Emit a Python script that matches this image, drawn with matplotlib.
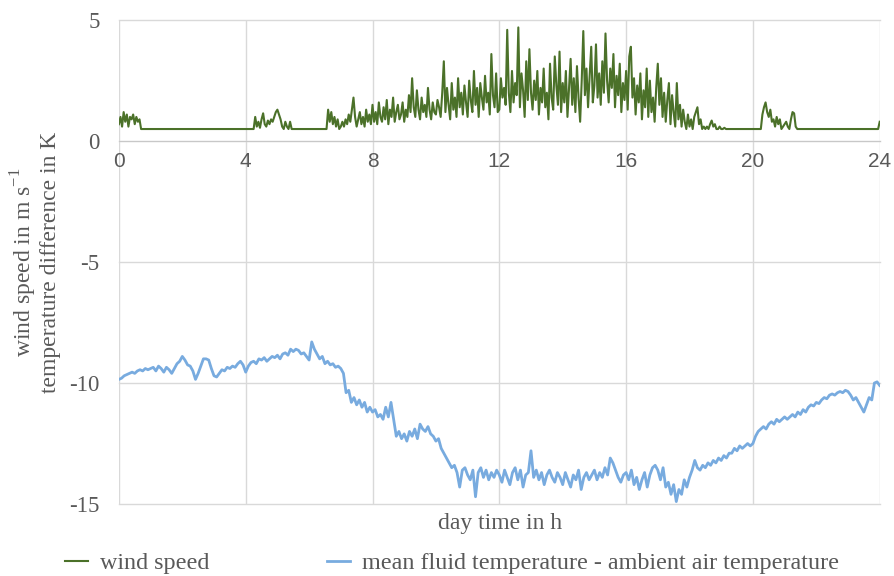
import numpy as np
import matplotlib
matplotlib.use("Agg")
import matplotlib.pyplot as plt

plt.rcParams['font.family'] = ['Liberation Serif', 'DejaVu Serif']
plt.rcParams['mathtext.fontset'] = 'custom'
plt.rcParams['mathtext.rm'] = 'Liberation Serif'
plt.rcParams['axes.unicode_minus'] = False

# wind speed in m/s, one value every 3 minutes (0 h .. 24 h)
wind_speed = (
    [0.7, 1.0, 0.6, 1.2, 0.8, 1.1, 0.6, 1.0, 0.9, 1.1, 0.7, 1.0, 0.8, 0.9]
    + [0.5] * 72
    + [1.0, 0.6, 0.8, 0.55, 0.9, 1.15, 0.7, 0.6, 0.85, 0.7, 0.9, 0.8,
       1.0, 1.2, 1.3, 1.1, 0.9, 0.6, 0.5, 0.8, 0.6, 0.5, 0.8, 0.5]
    + [0.5] * 22
    + [1.3, 0.8, 1.2, 0.7, 1.0, 0.6, 0.9, 0.5, 0.6, 0.8, 0.6, 0.9, 0.7, 1.1,
       0.8, 1.3, 1.8, 1.0, 0.6, 0.9, 1.2, 0.7, 1.0, 0.6, 1.3, 0.8, 1.1, 0.7]
    + [1.5, 0.8, 1.2, 0.7, 1.6, 1.0, 0.8, 1.4, 0.9, 1.7, 0.7, 1.3, 1.0, 1.8, 0.8, 1.2, 1.5, 0.9, 1.1, 1.6]
    + [0.8, 1.3, 1.0, 1.9, 1.2, 2.6, 1.4, 1.0, 2.1, 1.3, 0.9, 1.8, 1.2, 1.5, 1.0, 2.2, 1.3, 0.9, 1.6, 1.2]
    + [1.1, 1.7, 1.4, 1.0, 2.0, 3.3, 1.2, 2.2, 1.5, 0.9, 2.4, 1.3, 1.8, 1.0, 2.6, 1.4, 2.0, 1.1, 2.3, 1.6]
    + [1.0, 2.5, 1.7, 1.2, 2.9, 1.5, 2.2, 1.0, 2.4, 1.8, 1.3, 2.7, 1.6, 2.0, 1.1, 3.6, 1.9, 1.4, 2.8, 1.2]
    + [1.3, 2.6, 1.8, 2.2, 1.5, 4.6, 2.0, 1.2, 2.9, 1.6, 2.4, 1.9, 4.7, 1.4, 2.8, 2.1, 1.0, 3.3, 1.7, 3.8]
    + [2.0, 1.3, 2.5, 1.7, 2.9, 1.1, 2.2, 1.6, 3.0, 1.4, 2.0, 0.9, 3.2, 1.8, 1.3, 3.5, 2.3, 1.5, 3.7, 1.2]
    + [2.4, 1.6, 2.9, 1.0, 2.2, 3.4, 1.5, 2.6, 1.2, 3.1, 1.8, 0.8, 2.5, 4.55, 1.9, 3.0, 1.4, 2.7, 3.9, 1.6]
    + [2.3, 4.0, 1.8, 2.8, 1.5, 3.3, 2.0, 4.45, 2.5, 1.6, 3.0, 2.2, 3.6, 1.4, 2.7, 1.9, 3.2, 1.2, 2.4, 1.7]
    + [2.9, 1.3, 3.5, 3.9, 1.8, 2.6, 1.1, 2.3, 1.6, 2.8, 0.9, 2.1, 1.4, 3.0, 1.0, 2.5, 1.2, 1.8, 0.8, 2.2]
    + [3.2, 1.5, 2.6, 1.0, 2.0, 0.8, 1.7, 2.4, 0.7, 1.9, 1.2, 0.6, 2.4, 0.9, 1.5, 0.6, 1.3, 0.8, 0.5, 1.1]
    + [0.6, 0.9, 0.5, 1.0, 1.2, 1.4, 0.7, 0.9, 0.5, 0.6]
    + [0.5, 0.6, 0.5, 0.7, 0.85, 0.6, 0.7, 0.5, 0.5, 0.6, 0.5, 0.5, 0.55, 0.5, 0.5, 0.5]
    + [0.5] * 20
    + [1.1, 1.4, 1.6, 1.2, 1.0, 1.3, 0.8, 0.9, 0.6, 1.0, 0.7, 0.9, 0.5, 0.6,
       0.7, 0.8, 0.6, 0.5, 0.9, 1.2, 1.15, 0.6]
    + [0.5] * 52
    + [0.8]
)

# mean fluid temperature - ambient air temperature in K, every 5 minutes
temp_diff = [
    -9.85, -9.8, -9.7, -9.65, -9.6, -9.55, -9.6, -9.5, -9.45, -9.5, -9.4, -9.45,
    -9.4, -9.35, -9.5, -9.3, -9.4, -9.55, -9.35, -9.45, -9.6, -9.4, -9.2, -9.1,
    -8.9, -9.05, -9.25, -9.3, -9.5, -9.85, -9.6, -9.3, -9.0, -9.0, -9.05, -9.4,
    -9.7, -9.75, -9.6, -9.45, -9.5, -9.35, -9.4, -9.3, -9.35, -9.2, -9.1, -9.25,
    -9.55, -9.3, -9.15, -9.1, -9.2, -9.0, -9.05, -8.95, -9.1, -9.0, -8.9, -8.95,
    -8.85, -9.0, -8.8, -8.75, -8.85, -8.6, -8.7, -8.6, -8.65, -8.8, -8.75, -8.9,
    -9.05, -8.3, -8.6, -8.8, -9.0, -8.9, -9.2, -9.1, -9.25, -9.2, -9.35, -9.3,
    -9.4, -9.6, -10.4, -10.3, -10.8, -10.6, -10.9, -10.7, -11.0, -10.8, -11.2, -11.0,
    -11.2, -11.1, -11.4, -11.3, -11.5, -11.0, -11.4, -10.8, -11.5, -12.2, -12.0, -12.3,
    -12.1, -12.4, -12.0, -12.2, -11.9, -12.3, -11.7, -11.9, -12.0, -11.8, -12.1, -12.2,
    -12.4, -12.3, -12.7, -12.9, -13.1, -13.3, -13.5, -13.4, -13.7, -14.3, -13.6, -13.5,
    -13.8, -14.0, -13.6, -14.7, -13.7, -13.5, -13.9, -13.6, -14.0, -13.7, -13.9, -13.6,
    -13.8, -14.1, -13.6, -13.9, -14.2, -13.7, -13.5, -14.0, -13.6, -14.3, -13.8, -13.7,
    -12.8, -13.9, -13.6, -14.0, -13.7, -14.2, -13.8, -13.6, -13.9, -14.1, -13.7, -13.9,
    -14.2, -13.7, -14.0, -14.3, -13.8, -14.0, -13.6, -14.4, -13.9, -13.7, -14.0, -13.8,
    -13.6, -14.0, -13.7, -13.9, -13.5, -13.8, -13.1, -13.3, -13.6, -13.9, -14.1, -13.8,
    -13.7, -14.0, -13.6, -14.2, -13.9, -14.4, -14.0, -13.7, -14.3, -13.8, -13.5, -13.4,
    -13.6, -14.0, -13.5, -14.3, -14.1, -14.6, -14.2, -14.9, -14.4, -14.6, -14.0, -14.3,
    -13.9, -13.6, -13.2, -13.5, -13.6, -13.4, -13.5, -13.3, -13.4, -13.2, -13.3, -13.1,
    -13.2, -13.0, -13.1, -12.9, -12.9, -12.7, -12.8, -12.6, -12.7, -12.6, -12.5, -12.6,
    -12.5, -12.2, -12.0, -11.9, -11.8, -11.9, -11.7, -11.6, -11.7, -11.5, -11.6, -11.5,
    -11.4, -11.5, -11.4, -11.3, -11.4, -11.2, -11.3, -11.1, -11.2, -11.0, -10.9, -10.95,
    -10.8, -10.85, -10.7, -10.6, -10.65, -10.5, -10.45, -10.5, -10.4, -10.35, -10.4, -10.3,
    -10.35, -10.5, -10.7, -10.6, -10.8, -11.0, -11.2, -10.9, -10.6, -10.7, -10.0, -9.95,
    -10.1,
]

x_ticks = [0, 4, 8, 12, 16, 20, 24]
y_ticks = [-15, -10, -5, 0, 5]

t_wind = np.arange(len(wind_speed)) * 3 / 60
t_temp = np.arange(len(temp_diff)) * 5 / 60

grey = '#595959'
green = '#4b7129'
blue = '#78abdf'

fig = plt.figure(figsize=(8.94, 5.76), dpi=100)
ax = fig.add_axes([0.133, 0.125, 0.851, 0.84])

ax.plot(t_wind, wind_speed, color=green, lw=1.5, label='wind speed')
ax.plot(t_temp, temp_diff, color=blue, lw=2.0,
        label='mean fluid temperature - ambient air temperature')

ax.set_xlim(0, 24)
ax.set_ylim(-15, 5)
ax.set_xticks(x_ticks)
ax.set_yticks(y_ticks)
ax.grid(True, color='#d9d9d9', lw=1)
ax.set_axisbelow(True)
for gl in ax.get_xgridlines() + ax.get_ygridlines():
    gl.set_clip_on(False)

for s in ['top', 'right', 'left']:
    ax.spines[s].set_visible(False)
ax.spines['bottom'].set_position(('data', 0))
ax.spines['bottom'].set_color('#c8c8c8')

ax.tick_params(axis='x', length=0, pad=8, labelsize=15, labelcolor=grey)
ax.tick_params(axis='y', length=0, pad=14, labelsize=16.5, labelcolor=grey)
for lab in ax.get_xticklabels():
    lab.set_family('Liberation Sans')

fig.text(35 / 894, 1 - 262 / 576,
         'wind speed in m s$^{\\mathrm{-1}}$\ntemperature difference in K',
         rotation=90, ha='center', va='center', ma='center',
         fontsize=17, color=grey, linespacing=1.05)
fig.text(500 / 894, 1 - 523 / 576, 'day time in h',
         ha='center', va='center', fontsize=17, color=grey)

fig.legend(loc='center', bbox_to_anchor=(452 / 894, 1 - 563 / 576), ncol=2,
           frameon=False, fontsize=17.4, labelcolor=grey, handlelength=0.95,
           handletextpad=0.5, columnspacing=4.9)

fig.savefig('out.png', dpi=100)
